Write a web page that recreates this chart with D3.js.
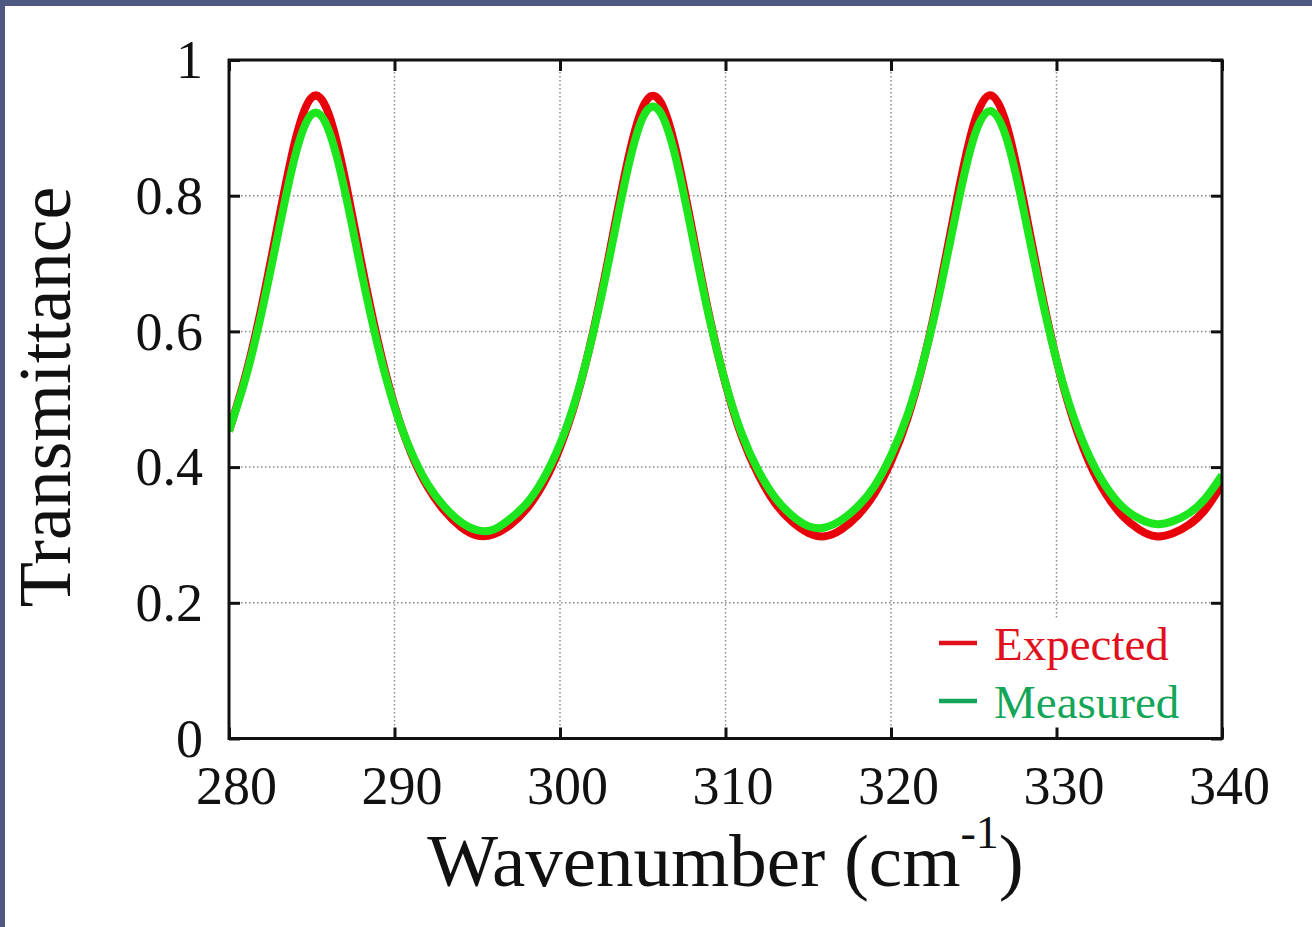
<!DOCTYPE html>
<html>
<head>
<meta charset="utf-8">
<script src="https://cdn.jsdelivr.net/npm/d3@7"></script>
<style>
  html, body { margin: 0; padding: 0; background: #ffffff; }
  svg { display: block; }
  text { font-family: "Liberation Serif", "Times New Roman", serif; }
</style>
</head>
<body>
<svg id="chart" width="1312" height="927"></svg>
<script>
// ---- data ----
const wavenumbers = d3.range(280, 341); // 280 ... 340 cm^-1, step 1
const expected = [
  0.453, 0.535, 0.640, 0.764, 0.881, 0.945, 0.922, 0.826, 0.701, 0.585,
  0.491, 0.421, 0.371, 0.336, 0.312, 0.299, 0.301, 0.315, 0.339, 0.376,
  0.429, 0.502, 0.599, 0.717, 0.841, 0.930, 0.941, 0.868, 0.748, 0.625,
  0.523, 0.444, 0.388, 0.347, 0.320, 0.303, 0.298, 0.308, 0.329, 0.361,
  0.408, 0.472, 0.560, 0.671, 0.797, 0.905, 0.948, 0.903, 0.794, 0.669,
  0.558, 0.471, 0.406, 0.360, 0.328, 0.308, 0.298, 0.302, 0.315, 0.338,
  0.375
];
const measured = [
  0.453, 0.531, 0.631, 0.748, 0.859, 0.920, 0.898, 0.807, 0.688, 0.578,
  0.489, 0.423, 0.375, 0.342, 0.319, 0.307, 0.308, 0.324, 0.347, 0.383,
  0.434, 0.504, 0.597, 0.710, 0.829, 0.915, 0.925, 0.855, 0.740, 0.622,
  0.524, 0.448, 0.394, 0.355, 0.329, 0.313, 0.311, 0.322, 0.342, 0.372,
  0.417, 0.477, 0.560, 0.664, 0.783, 0.885, 0.925, 0.883, 0.780, 0.662,
  0.558, 0.476, 0.415, 0.371, 0.341, 0.324, 0.316, 0.320, 0.332, 0.354,
  0.388
];
const seriesNames = ["Expected", "Measured"];
const xTicks = [280, 290, 300, 310, 320, 330, 340];
const yTicks = [0, 0.2, 0.4, 0.6, 0.8, 1];
const yTickLabels = ["0", "0.2", "0.4", "0.6", "0.8", "1"];

// ---- layout ----
const W = 1312, H = 927;
const L = 229, R = 1222, T = 60, B = 738.5;
const svg = d3.select("#chart");

svg.append("rect").attr("width", W).attr("height", H).attr("fill", "#ffffff");
// dark slide border (top and left)
svg.append("rect").attr("x", 0).attr("y", 0).attr("width", W).attr("height", 6).attr("fill", "#4f5880");
svg.append("rect").attr("x", 0).attr("y", 0).attr("width", 5).attr("height", H).attr("fill", "#4f5880");

const x = d3.scaleLinear().domain([280, 340]).range([L, R]);
const y = d3.scaleLinear().domain([0, 1]).range([B, T]);

// grid
const grid = svg.append("g");
grid.selectAll("line.gx").data(xTicks.slice(1, -1)).join("line")
  .attr("x1", d => x(d)).attr("x2", d => x(d)).attr("y1", T).attr("y2", B)
  .attr("stroke", "#8a8a8a").attr("stroke-width", 1.5).attr("stroke-dasharray", "1.5,2.5");
grid.selectAll("line.gy").data(yTicks.slice(1, -1)).join("line")
  .attr("y1", d => y(d)).attr("y2", d => y(d)).attr("x1", L).attr("x2", R)
  .attr("stroke", "#8a8a8a").attr("stroke-width", 1.5).attr("stroke-dasharray", "1.5,2.5");

// clip
svg.append("clipPath").attr("id", "plotclip").append("rect")
  .attr("x", L).attr("y", T).attr("width", R - L).attr("height", B - T);

// legend background (opaque key box)
svg.append("rect").attr("x", 925).attr("y", 618).attr("width", 294).attr("height", 118).attr("fill", "#ffffff");

const line = d3.line().x(d => x(d[0])).y(d => y(d[1])).curve(d3.curveNatural);
const curves = svg.append("g").attr("clip-path", "url(#plotclip)");
curves.append("path").datum(wavenumbers.map((w, i) => [w, expected[i]]))
  .attr("d", line).attr("fill", "none").attr("stroke", "#e8000b").attr("stroke-width", 8)
  .attr("stroke-linejoin", "round");
curves.append("path").datum(wavenumbers.map((w, i) => [w, measured[i]]))
  .attr("d", line).attr("fill", "none").attr("stroke", "#1ee61e").attr("stroke-width", 8)
  .attr("stroke-linejoin", "round");

// axes using d3 axis generators (ticks inward, mirrored)
const tickLen = 11;
const axB = svg.append("g").attr("transform", `translate(0,${B})`)
  .call(d3.axisBottom(x).tickValues(xTicks).tickSize(-tickLen).tickFormat(d3.format("d")).tickPadding(24));
const axT = svg.append("g").attr("transform", `translate(0,${T})`)
  .call(d3.axisTop(x).tickValues(xTicks).tickSize(-tickLen).tickFormat(""));
const axL = svg.append("g").attr("transform", `translate(${L},0)`)
  .call(d3.axisLeft(y).tickValues(yTicks).tickSize(-tickLen).tickFormat((d, i) => yTickLabels[i]).tickPadding(26));
const axR = svg.append("g").attr("transform", `translate(${R},0)`)
  .call(d3.axisRight(y).tickValues(yTicks).tickSize(-tickLen).tickFormat(""));

[axB, axT, axL, axR].forEach(a => {
  a.select(".domain").remove();
  a.selectAll(".tick line").attr("stroke", "#111").attr("stroke-width", 3);
});
axB.selectAll(".tick text").attr("font-size", 54).attr("fill", "#111")
  .attr("font-family", "'Liberation Serif', serif").attr("dx", 7).attr("dy", "0.76em");
axL.selectAll(".tick text").attr("font-size", 54).attr("fill", "#111")
  .attr("font-family", "'Liberation Serif', serif").attr("dy", "0.33em");

// frame
svg.append("rect").attr("x", L).attr("y", T).attr("width", R - L).attr("height", B - T)
  .attr("fill", "none").attr("stroke", "#111").attr("stroke-width", 3);

// axis titles
const xt = svg.append("text").attr("x", (L + R) / 2).attr("y", 886)
  .attr("text-anchor", "middle").attr("font-size", 75).attr("fill", "#111");
xt.append("tspan").text("Wavenumber (cm");
xt.append("tspan").text("-1").attr("font-size", 46).attr("dy", -38);
xt.append("tspan").text(")").attr("dy", 38);

svg.append("text").attr("transform", `translate(70,397) rotate(-90)`)
  .attr("text-anchor", "middle").attr("font-size", 74).attr("fill", "#111").text("Transmittance");

// legend
const legColors = ["#e0101c", "#13a658"];
const legY = [643, 701];
const leg = svg.append("g");
seriesNames.forEach((name, i) => {
  leg.append("line").attr("x1", 939).attr("x2", 977).attr("y1", legY[i]).attr("y2", legY[i])
    .attr("stroke", legColors[i]).attr("stroke-width", 4.5);
  leg.append("text").attr("x", 994).attr("y", legY[i] + 17).attr("font-size", 47)
    .attr("fill", legColors[i]).text(name);
});
</script>
</body>
</html>
